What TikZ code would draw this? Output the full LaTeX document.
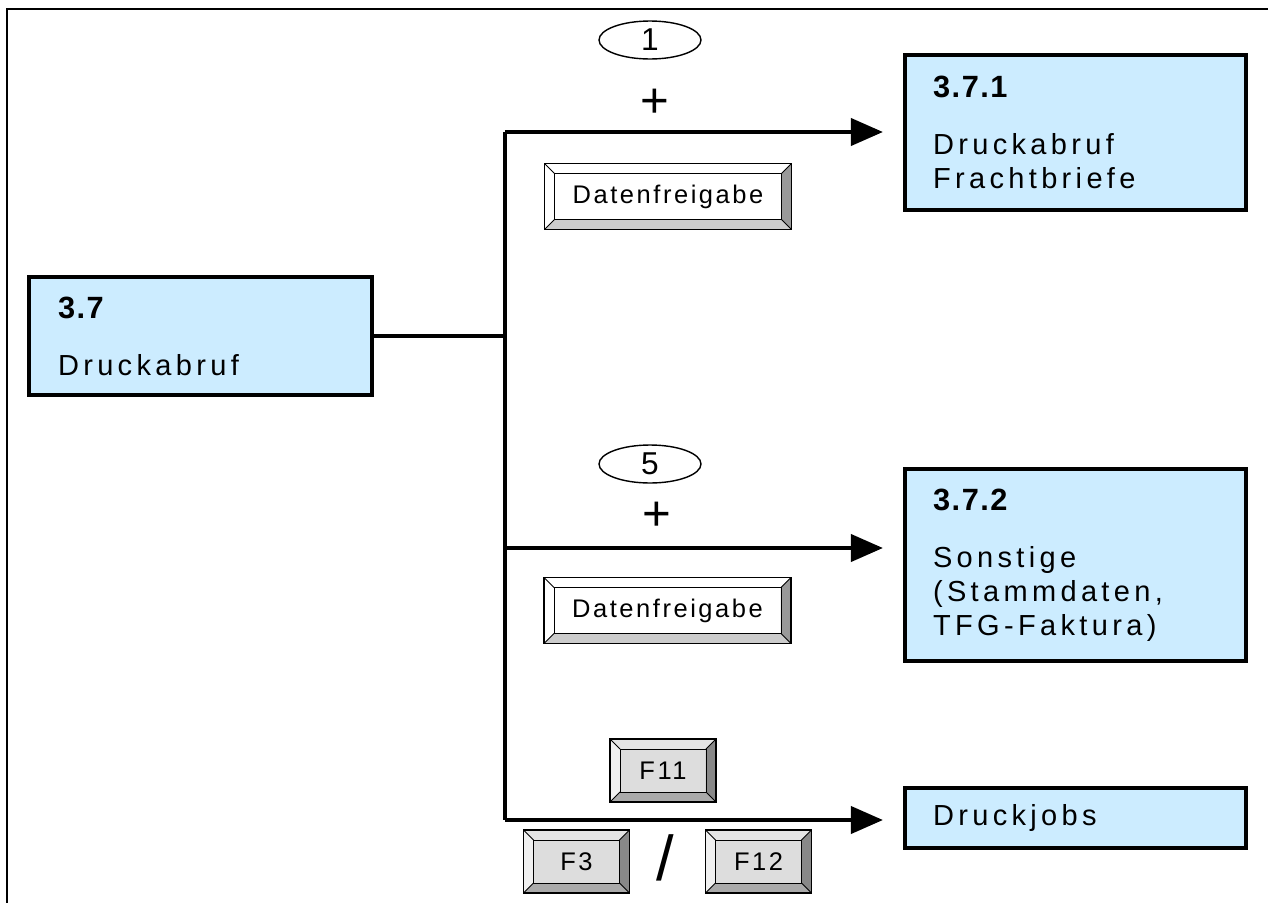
\documentclass[tikz,border=0pt]{standalone}
\usepackage{fontspec}
\setmainfont{Liberation Sans}
\newfontfamily\boxfont[LetterSpace=15]{Liberation Sans}
\newfontfamily\numfont[LetterSpace=5]{Liberation Sans}
\newfontfamily\keyfont[LetterSpace=10]{Liberation Sans}
\usetikzlibrary{arrows.meta, calc, positioning, shapes.geometric}
\usepackage{xcolor}
\definecolor{procblue}{RGB}{204, 236, 255}
\definecolor{keyface}{RGB}{221, 221, 221}
\definecolor{keylight}{RGB}{240, 240, 240}
\definecolor{keytop}{RGB}{228, 228, 228}
\definecolor{keydark}{RGB}{136, 136, 136}
\definecolor{keymid}{RGB}{170, 170, 170}
\definecolor{datadark}{RGB}{153, 153, 153}
\definecolor{datamid}{RGB}{204, 204, 204}
\newcommand{\procnr}[1]{{\numfont\bfseries\fontsize{17.5}{19.4}\selectfont #1}}

\begin{document}
\begin{tikzpicture}[x=0.02cm, y=-0.02cm,
				pbox/.style={draw=black, line width=2.4pt, fill=procblue,
					minimum width=6.82cm, text width=5.7cm, inner xsep=0.54cm,
					align=left, font=\boxfont\fontsize{16.5}{19.4}\selectfont},
				keybtn/.style n args={5}{draw=black, line width=0.7pt, fill=#1,
					inner sep=0pt, font=\keyfont\fontsize{14.5}{17}\selectfont,
					path picture={
						\fill[#2] (path picture bounding box.north west) -- (path picture bounding box.north east)
							-- ([shift={(-0.2cm,-0.2cm)}]path picture bounding box.north east)
							-- ([shift={(0.2cm,-0.2cm)}]path picture bounding box.north west) -- cycle;
						\fill[#3] (path picture bounding box.north west) -- (path picture bounding box.south west)
							-- ([shift={(0.2cm,0.2cm)}]path picture bounding box.south west)
							-- ([shift={(0.2cm,-0.2cm)}]path picture bounding box.north west) -- cycle;
						\fill[#4] (path picture bounding box.north east) -- (path picture bounding box.south east)
							-- ([shift={(-0.2cm,0.2cm)}]path picture bounding box.south east)
							-- ([shift={(-0.2cm,-0.2cm)}]path picture bounding box.north east) -- cycle;
						\fill[#5] (path picture bounding box.south west) -- (path picture bounding box.south east)
							-- ([shift={(-0.2cm,0.2cm)}]path picture bounding box.south east)
							-- ([shift={(0.2cm,0.2cm)}]path picture bounding box.south west) -- cycle;
						\draw[line width=0.5pt] ([shift={(0.2cm,-0.2cm)}]path picture bounding box.north west)
							rectangle ([shift={(-0.2cm,0.2cm)}]path picture bounding box.south east);
						\draw[line width=0.5pt] (path picture bounding box.north west) -- ++(0.2cm,-0.2cm)
							(path picture bounding box.north east) -- ++(-0.2cm,-0.2cm)
							(path picture bounding box.south west) -- ++(0.2cm,0.2cm)
							(path picture bounding box.south east) -- ++(-0.2cm,0.2cm);
					}},
				datakey/.style={keybtn={white}{white}{white}{datadark}{datamid},
					minimum width=4.94cm, minimum height=1.32cm},
				fkey/.style={keybtn={keyface}{keytop}{keylight}{keydark}{keymid},
					minimum width=2.12cm, minimum height=1.26cm},
				count/.style={draw=black, ellipse, line width=0.8pt, inner sep=0pt,
					minimum width=2.04cm, minimum height=0.76cm, font=\fontsize{18}{18}\selectfont},
				plus/.style={font=\fontsize{28}{28}\selectfont, inner sep=0pt},
				trunk/.style={line width=0.08cm},
				arr/.style={line width=0.08cm, -{Triangle[length=0.64cm, width=0.54cm]}, shorten >=0.4cm}
				]
				\useasboundingbox (0,0) rectangle (1268,903);
				\draw[line width=1.2pt] (1268,9) -- (7,9) -- (7,903);
				% Prozesse
				\node[pbox, minimum width=6.86cm, minimum height=2.36cm] (b37) at (200.5,336)
					{\procnr{3.7}\\[13pt]Druckabruf};
				\node[pbox, minimum height=3.10cm] (b371) at (1075.5,132.5)
					{\procnr{3.7.1}\\[13pt]Druckabruf\\Frachtbriefe};
				\node[pbox, minimum height=3.84cm] (b372) at (1075.5,565)
					{\procnr{3.7.2}\\[13pt]Sonstige\\(Stammdaten,\\TFG-Faktura)};
				\node[pbox, minimum height=1.20cm] (jobs) at (1075.5,818) {Druckjobs};
				% Verzweigung
				\coordinate (jtop) at (505,132);
				\coordinate (jmid) at (505,548);
				\coordinate (jbot) at (505,820);
				\coordinate (jin) at (b37.east -| jtop);
				\draw[trunk] (jtop) -- (jbot);
				\draw[trunk] (b37) -- (jin);
				\draw[arr] (jtop) -- (b371.west |- jtop);
				\draw[arr] (jmid) -- (b372.west |- jmid);
				\draw[arr] (jbot) -- (jobs.west |- jbot);
				% Beschriftungen
				\node[count] (c1) at (650,40) {1};
				\node[plus] (p1) at (655,103) {+};
				\node[datakey] (df1) at (668,196.5) {Datenfreigabe};
				\node[count] (c5) at (650,464) {5};
				\node[plus] (p5) at (657,516) {+};
				\node[datakey] (df5) at (667.5,610.5) {Datenfreigabe};
				\node[fkey] (f11) at (663,770.5) {F11};
				\node[fkey] (f3) at (576.5,861.5) {F3};
				\node[font=\fontsize{36}{36}\selectfont, inner sep=0pt] (slash) at (665.5,858) {/};
				\node[fkey] (f12) at (758.5,861.5) {F12};
			\end{tikzpicture}
\end{document}
